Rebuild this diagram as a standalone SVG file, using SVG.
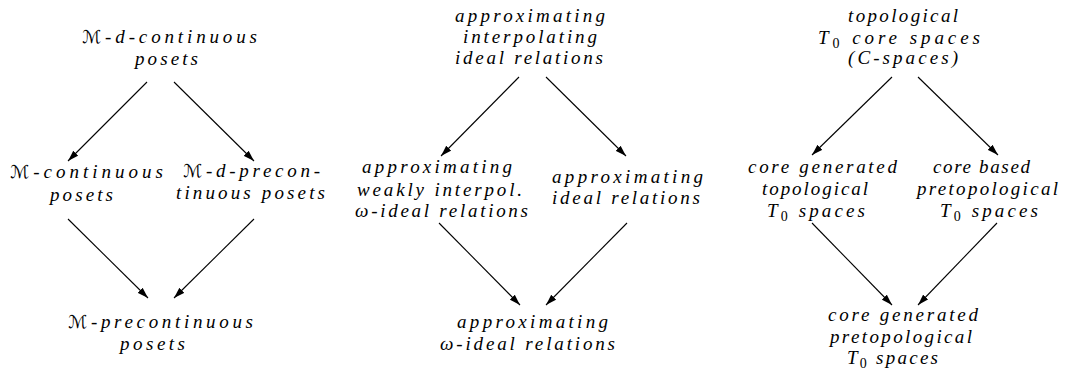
<svg xmlns="http://www.w3.org/2000/svg" width="1066" height="372" viewBox="0 0 1066 372">
<style>
.t text{font-family:'Liberation Serif','Times New Roman',serif;font-style:italic;font-size:19px;fill:#000}
.t .cal{font-family:'DejaVu Sans',sans-serif;font-style:normal;font-size:18px}
.t .sub{font-style:normal;font-size:14px}
.c line{stroke:#000;stroke-width:1.1;marker-end:url(#ah)}
</style>
<defs>
<marker id="ah" markerUnits="userSpaceOnUse" markerWidth="12" markerHeight="8" refX="11" refY="4" orient="auto">
<path d="M0,0.5 L11,4 L0,7.5 z" fill="#000"/>
</marker>
</defs>
<g class="c" id="connectors">
<line x1="147" y1="82" x2="68" y2="161"/>
<line x1="174" y1="82" x2="254" y2="161"/>
<line x1="68" y1="219" x2="148" y2="298"/>
<line x1="254" y1="219" x2="174" y2="298"/>
<line x1="519" y1="77" x2="441" y2="156"/>
<line x1="546" y1="77" x2="626" y2="156"/>
<line x1="439" y1="223" x2="520" y2="305"/>
<line x1="627" y1="223" x2="546" y2="305"/>
<line x1="892" y1="77" x2="812" y2="155"/>
<line x1="918" y1="77" x2="998" y2="155"/>
<line x1="812" y1="223" x2="892" y2="305"/>
<line x1="997" y1="223" x2="918" y2="305"/>
</g>
<g class="t">
<g id="n1">
<text x="82" y="43" textLength="175" lengthAdjust="spacing"><tspan class="cal">ℳ</tspan>-d-continuous</text>
<text x="135" y="65" textLength="63" lengthAdjust="spacing">posets</text>
</g>
<g id="n2">
<text x="10" y="178" textLength="153" lengthAdjust="spacing"><tspan class="cal">ℳ</tspan>-continuous</text>
<text x="50" y="201" textLength="63" lengthAdjust="spacing">posets</text>
</g>
<g id="n3">
<text x="183" y="177" textLength="137" lengthAdjust="spacing"><tspan class="cal">ℳ</tspan>-d-precon-</text>
<text x="176" y="199" textLength="149" lengthAdjust="spacing">tinuous posets</text>
</g>
<g id="n4">
<text x="68" y="328" textLength="185" lengthAdjust="spacing"><tspan class="cal">ℳ</tspan>-precontinuous</text>
<text x="120" y="350" textLength="65" lengthAdjust="spacing">posets</text>
</g>
<g id="n5">
<text x="455" y="22" textLength="150" lengthAdjust="spacing">approximating</text>
<text x="463" y="43" textLength="134" lengthAdjust="spacing">interpolating</text>
<text x="455" y="64" textLength="148" lengthAdjust="spacing">ideal relations</text>
</g>
<g id="n6">
<text x="362" y="173" textLength="150" lengthAdjust="spacing">approximating</text>
<text x="357" y="196" textLength="165" lengthAdjust="spacing">weakly interpol.</text>
<text x="355" y="217" textLength="173" lengthAdjust="spacing">ω-ideal relations</text>
</g>
<g id="n7">
<text x="552" y="183" textLength="151" lengthAdjust="spacing">approximating</text>
<text x="552" y="204" textLength="148" lengthAdjust="spacing">ideal relations</text>
</g>
<g id="n8">
<text x="457" y="328" textLength="151" lengthAdjust="spacing">approximating</text>
<text x="440" y="350" textLength="175" lengthAdjust="spacing">ω-ideal relations</text>
</g>
<g id="n9">
<text x="848" y="22" textLength="110" lengthAdjust="spacing">topological</text>
<text x="818" y="44" textLength="162" lengthAdjust="spacing">T<tspan class="sub" dy="4">0</tspan><tspan dy="-4"> core spaces</tspan></text>
<text x="848" y="64" textLength="110" lengthAdjust="spacing">(C-spaces)</text>
</g>
<g id="n10">
<text x="748" y="173" textLength="149" lengthAdjust="spacing">core generated</text>
<text x="762" y="195" textLength="106" lengthAdjust="spacing">topological</text>
<text x="767" y="217" textLength="98" lengthAdjust="spacing">T<tspan class="sub" dy="4">0</tspan><tspan dy="-4"> spaces</tspan></text>
</g>
<g id="n11">
<text x="933" y="173" textLength="97" lengthAdjust="spacing">core based</text>
<text x="917" y="195" textLength="141" lengthAdjust="spacing">pretopological</text>
<text x="940" y="217" textLength="98" lengthAdjust="spacing">T<tspan class="sub" dy="4">0</tspan><tspan dy="-4"> spaces</tspan></text>
</g>
<g id="n12">
<text x="828" y="321" textLength="150" lengthAdjust="spacing">core generated</text>
<text x="830" y="343" textLength="142" lengthAdjust="spacing">pretopological</text>
<text x="847" y="364" textLength="91" lengthAdjust="spacing">T<tspan class="sub" dy="4">0</tspan><tspan dy="-4"> spaces</tspan></text>
</g>
</g>
</svg>
